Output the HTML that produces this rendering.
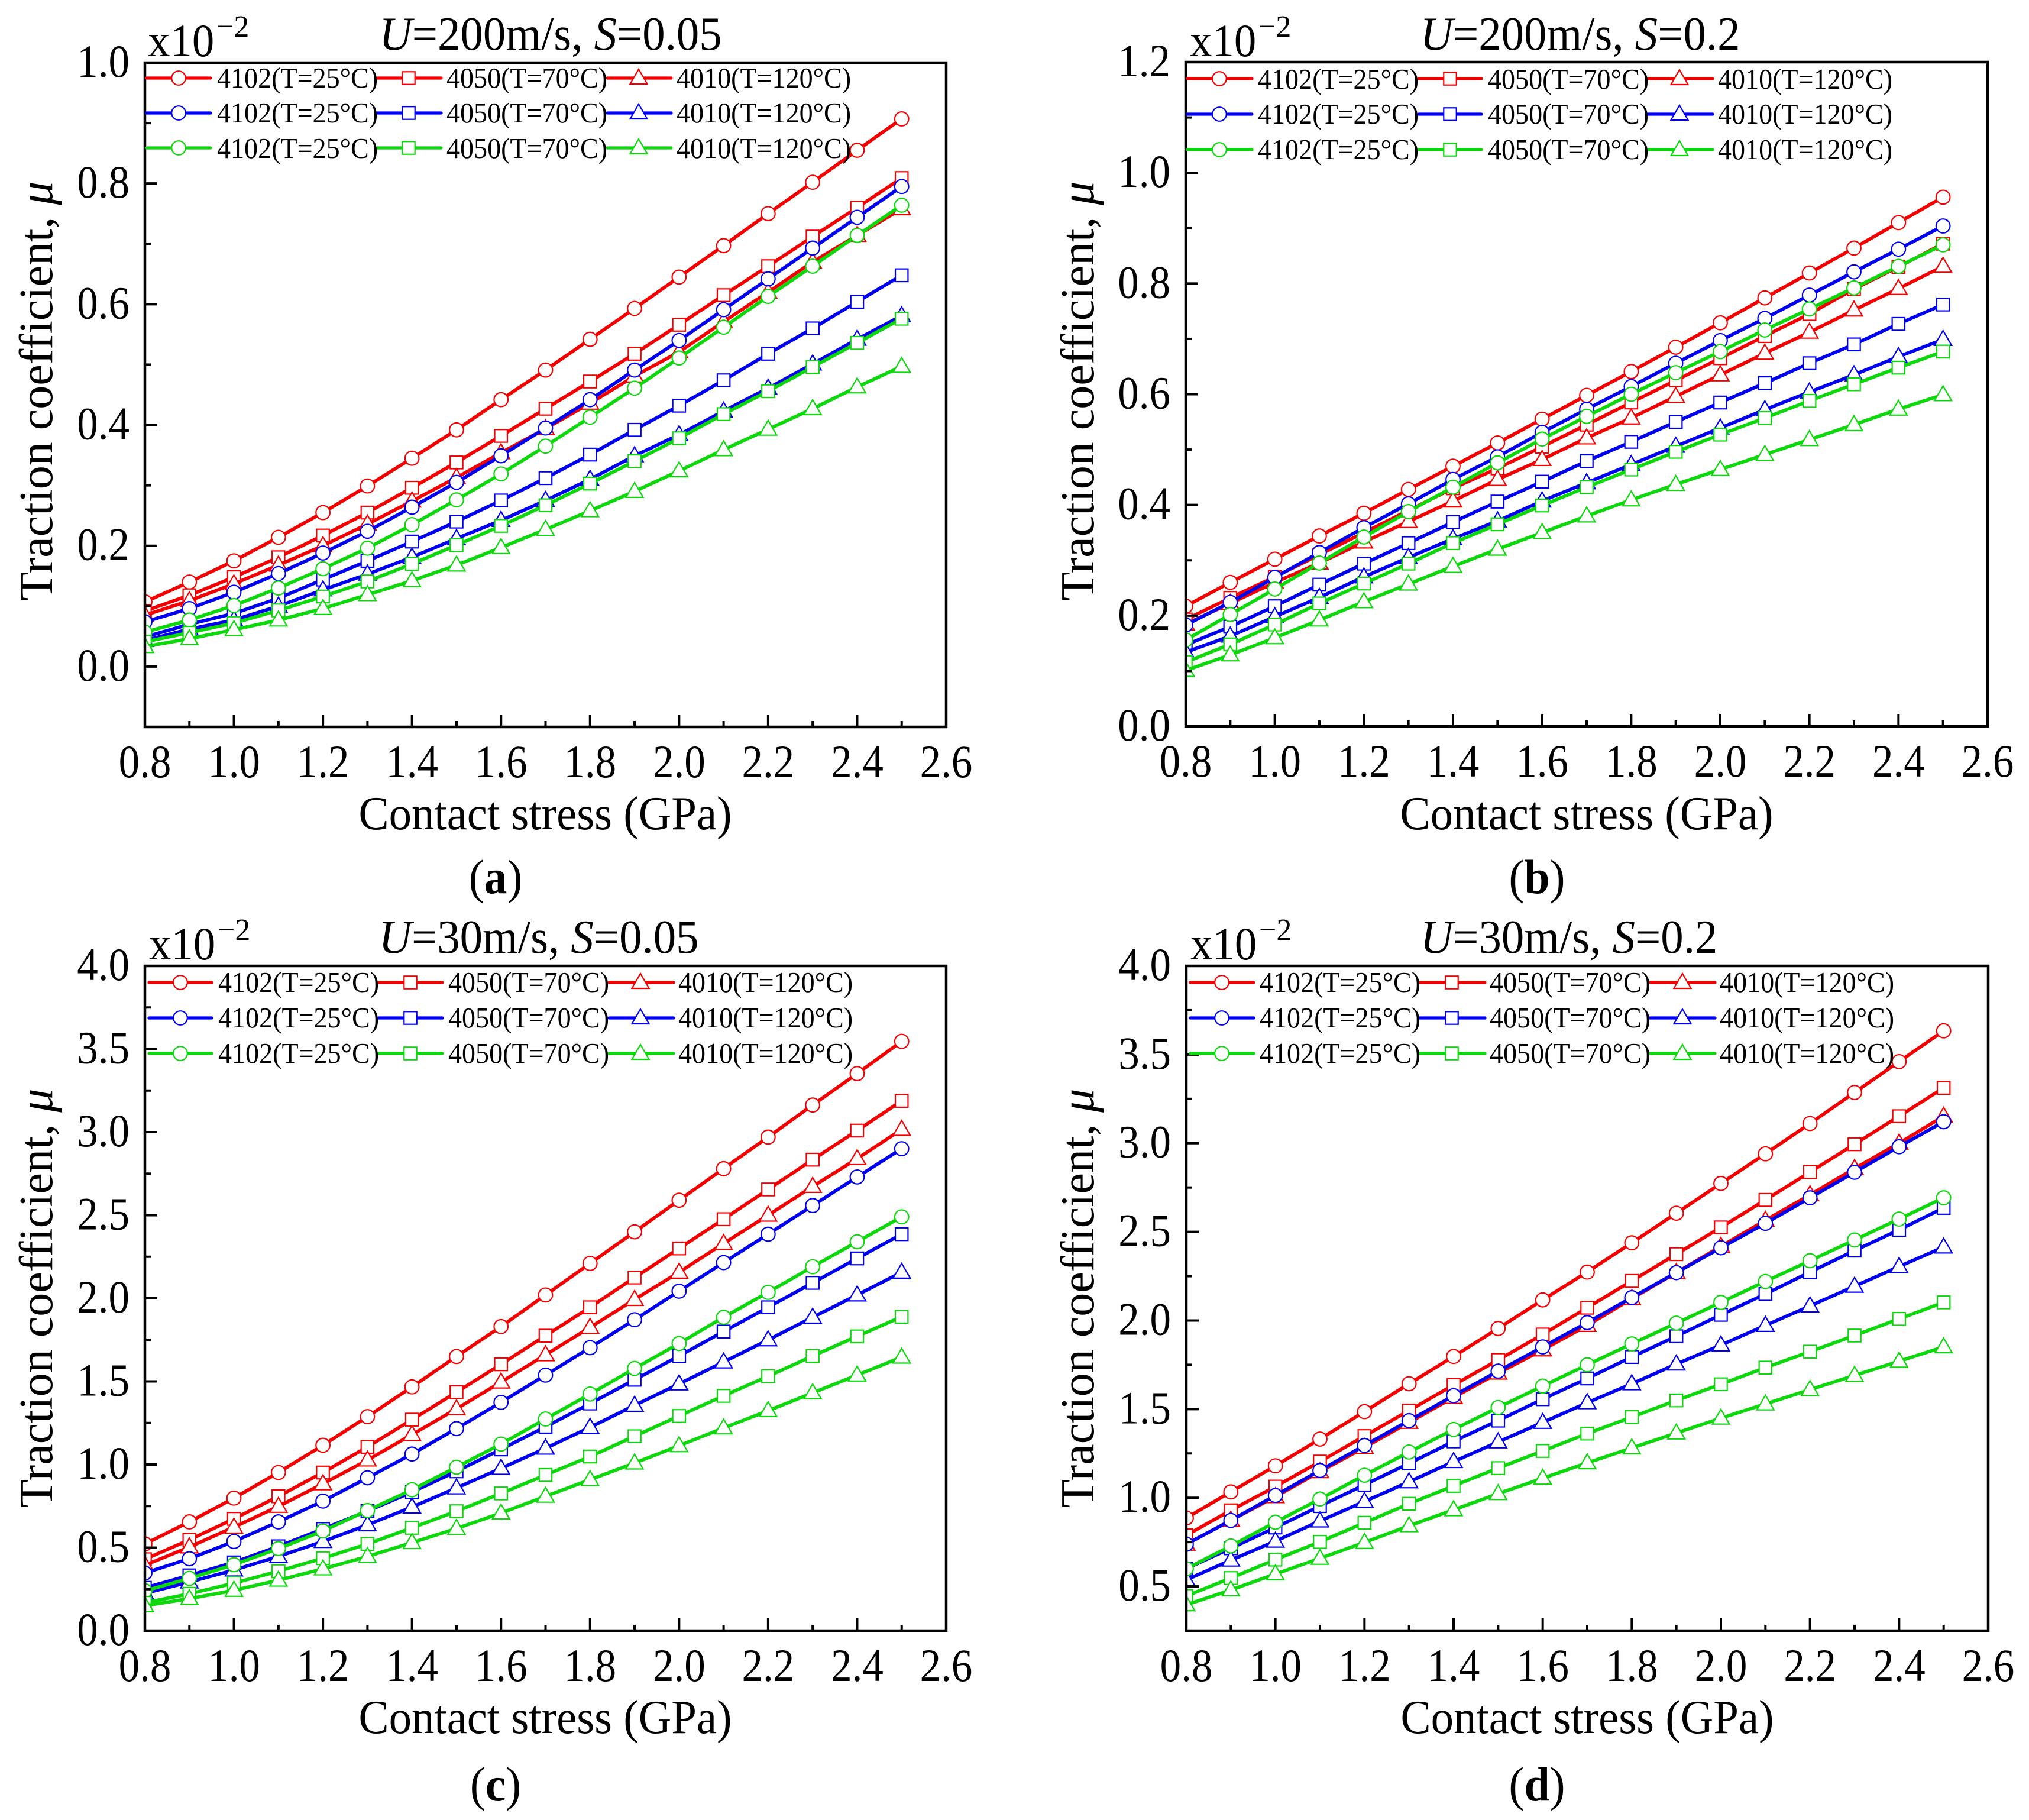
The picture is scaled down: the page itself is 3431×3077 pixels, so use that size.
<!DOCTYPE html>
<html lang="en">
<head>
<meta charset="utf-8">
<title>Traction coefficient vs contact stress</title>
<style>
  html, body { margin: 0; padding: 0; background: #fff; }
  svg { display: block; }
  text { font-family: "Liberation Serif", "Times New Roman", serif; fill: #000; }
  .big { font-size: 80px; }
  .xtitle { font-size: 80px; transform-box: fill-box; transform-origin: center; transform: scaleX(.96); }
  .title { font-size: 80px; transform-box: fill-box; transform-origin: center; transform: scaleX(.96); }
  .leg { font-size: 49px; transform-box: fill-box; transform-origin: left center; transform: scaleX(.94); }
  .mult { font-size: 78px; transform-box: fill-box; transform-origin: left center; transform: scaleX(.96); }
  .exp { font-size: 52px; }
  .cap { font-size: 82px; transform-box: fill-box; transform-origin: center; transform: scaleX(.95); }
  .it { font-style: italic; }
</style>
</head>
<body>
<svg id="figure" xmlns="http://www.w3.org/2000/svg" width="3431" height="3077" viewBox="0 0 3431 3077">
  <rect x="0" y="0" width="3431" height="3077" fill="#fff"/>
  <defs>
    <clipPath id="clip-a"><rect x="245" y="106" width="1355" height="1123"/></clipPath>
    <clipPath id="clip-b"><rect x="2005" y="105" width="1356" height="1123"/></clipPath>
    <clipPath id="clip-c"><rect x="245" y="1633" width="1355" height="1124"/></clipPath>
    <clipPath id="clip-d"><rect x="2006" y="1633" width="1356" height="1124"/></clipPath>
  </defs>

  <!-- PANEL A -->
  <g>
    <g id="plot-a" clip-path="url(#clip-a)"></g>
    <g id="axes-a"></g>
    <g id="legend-a"></g>
    <g>
      <text class="leg" x="367" y="148">4102(T=25°C)</text>
      <text class="leg" x="755" y="148">4050(T=70°C)</text>
      <text class="leg" x="1144" y="148">4010(T=120°C)</text>
      <text class="leg" x="367" y="207">4102(T=25°C)</text>
      <text class="leg" x="755" y="207">4050(T=70°C)</text>
      <text class="leg" x="1144" y="207">4010(T=120°C)</text>
      <text class="leg" x="367" y="267">4102(T=25°C)</text>
      <text class="leg" x="755" y="267">4050(T=70°C)</text>
      <text class="leg" x="1144" y="267">4010(T=120°C)</text>
    </g>
    <text class="title" x="931" y="84" text-anchor="middle"><tspan class="it">U</tspan>=200m/s, <tspan class="it">S</tspan>=0.05</text>
    <text class="mult" x="250" y="95">x10</text>
    <text class="exp" x="366" y="62">−2</text>
    <text class="xtitle" x="922" y="1402" text-anchor="middle">Contact stress (GPa)</text>
    <text class="big" transform="translate(88 661) rotate(-90)" text-anchor="middle">Traction coefficient, <tspan class="it">μ</tspan></text>
    <text class="cap" x="838" y="1510" text-anchor="middle">(<tspan font-weight="bold">a</tspan>)</text>
  </g>

  <!-- PANEL B -->
  <g>
    <g id="plot-b" clip-path="url(#clip-b)"></g>
    <g id="axes-b"></g>
    <g id="legend-b"></g>
    <g>
      <text class="leg" x="2127" y="150">4102(T=25°C)</text>
      <text class="leg" x="2516" y="150">4050(T=70°C)</text>
      <text class="leg" x="2905" y="150">4010(T=120°C)</text>
      <text class="leg" x="2127" y="209">4102(T=25°C)</text>
      <text class="leg" x="2516" y="209">4050(T=70°C)</text>
      <text class="leg" x="2905" y="209">4010(T=120°C)</text>
      <text class="leg" x="2127" y="269">4102(T=25°C)</text>
      <text class="leg" x="2516" y="269">4050(T=70°C)</text>
      <text class="leg" x="2905" y="269">4010(T=120°C)</text>
    </g>
    <text class="title" x="2672" y="84" text-anchor="middle"><tspan class="it">U</tspan>=200m/s, <tspan class="it">S</tspan>=0.2</text>
    <text class="mult" x="2012" y="95">x10</text>
    <text class="exp" x="2128" y="62">−2</text>
    <text class="xtitle" x="2683" y="1402" text-anchor="middle">Contact stress (GPa)</text>
    <text class="big" transform="translate(1849 661) rotate(-90)" text-anchor="middle">Traction coefficient, <tspan class="it">μ</tspan></text>
    <text class="cap" x="2599" y="1510" text-anchor="middle">(<tspan font-weight="bold">b</tspan>)</text>
  </g>

  <!-- PANEL C -->
  <g>
    <g id="plot-c" clip-path="url(#clip-c)"></g>
    <g id="axes-c"></g>
    <g id="legend-c"></g>
    <g>
      <text class="leg" x="369" y="1677">4102(T=25°C)</text>
      <text class="leg" x="758" y="1677">4050(T=70°C)</text>
      <text class="leg" x="1147" y="1677">4010(T=120°C)</text>
      <text class="leg" x="369" y="1737">4102(T=25°C)</text>
      <text class="leg" x="758" y="1737">4050(T=70°C)</text>
      <text class="leg" x="1147" y="1737">4010(T=120°C)</text>
      <text class="leg" x="369" y="1797">4102(T=25°C)</text>
      <text class="leg" x="758" y="1797">4050(T=70°C)</text>
      <text class="leg" x="1147" y="1797">4010(T=120°C)</text>
    </g>
    <text class="title" x="911" y="1611" text-anchor="middle"><tspan class="it">U</tspan>=30m/s, <tspan class="it">S</tspan>=0.05</text>
    <text class="mult" x="252" y="1622">x10</text>
    <text class="exp" x="368" y="1589">−2</text>
    <text class="xtitle" x="922" y="2930" text-anchor="middle">Contact stress (GPa)</text>
    <text class="big" transform="translate(88 2195) rotate(-90)" text-anchor="middle">Traction coefficient, <tspan class="it">μ</tspan></text>
    <text class="cap" x="838" y="3044" text-anchor="middle">(<tspan font-weight="bold">c</tspan>)</text>
  </g>

  <!-- PANEL D -->
  <g>
    <g id="plot-d" clip-path="url(#clip-d)"></g>
    <g id="axes-d"></g>
    <g id="legend-d"></g>
    <g>
      <text class="leg" x="2130" y="1677">4102(T=25°C)</text>
      <text class="leg" x="2519" y="1677">4050(T=70°C)</text>
      <text class="leg" x="2908" y="1677">4010(T=120°C)</text>
      <text class="leg" x="2130" y="1737">4102(T=25°C)</text>
      <text class="leg" x="2519" y="1737">4050(T=70°C)</text>
      <text class="leg" x="2908" y="1737">4010(T=120°C)</text>
      <text class="leg" x="2130" y="1797">4102(T=25°C)</text>
      <text class="leg" x="2519" y="1797">4050(T=70°C)</text>
      <text class="leg" x="2908" y="1797">4010(T=120°C)</text>
    </g>
    <text class="title" x="2653" y="1611" text-anchor="middle"><tspan class="it">U</tspan>=30m/s, <tspan class="it">S</tspan>=0.2</text>
    <text class="mult" x="2013" y="1622">x10</text>
    <text class="exp" x="2129" y="1589">−2</text>
    <text class="xtitle" x="2684" y="2930" text-anchor="middle">Contact stress (GPa)</text>
    <text class="big" transform="translate(1849 2195) rotate(-90)" text-anchor="middle">Traction coefficient, <tspan class="it">μ</tspan></text>
    <text class="cap" x="2599" y="3044" text-anchor="middle">(<tspan font-weight="bold">d</tspan>)</text>
  </g>
</svg>

<script>
// Shared x categories and tick labels
const contactStress = [0.8,0.9,1.0,1.1,1.2,1.3,1.4,1.5,1.6,1.7,1.8,1.9,2.0,2.1,2.2,2.3,2.4,2.5];
const xTickLabels = ['0.8','1.0','1.2','1.4','1.6','1.8','2.0','2.2','2.4','2.6'];
const yTickLabelsA = ['0.0','0.2','0.4','0.6','0.8','1.0'];
const yTickLabelsB = ['0.0','0.2','0.4','0.6','0.8','1.0','1.2'];
const yTickLabelsC = ['0.0','0.5','1.0','1.5','2.0','2.5','3.0','3.5','4.0'];
const yTickLabelsD = ['0.5','1.0','1.5','2.0','2.5','3.0','3.5','4.0'];

// Panel (a) U=200m/s, S=0.05
const aRed4102 = [.107,.14,.175,.214,.255,.299,.345,.392,.442,.491,.542,.593,.645,.697,.75,.802,.855,.907];
const aRed4050 = [.092,.118,.148,.181,.217,.255,.296,.338,.382,.427,.472,.518,.566,.615,.663,.712,.76,.809];
const aRed4010 = [.085,.109,.137,.168,.2,.236,.274,.313,.354,.394,.436,.481,.521,.571,.62,.67,.714,.758];
const aBlue4102 = [.074,.096,.123,.154,.188,.224,.264,.305,.349,.395,.442,.491,.54,.591,.642,.693,.744,.795];
const aBlue4050 = [.049,.07,.088,.113,.144,.175,.207,.24,.275,.312,.351,.392,.432,.474,.518,.56,.604,.648];
const aBlue4010 = [.043,.062,.077,.1,.127,.153,.181,.212,.242,.275,.31,.349,.384,.423,.461,.501,.542,.581];
const aGreen4102 = [.057,.077,.101,.13,.162,.196,.235,.276,.319,.365,.413,.461,.511,.562,.613,.663,.714,.764];
const aGreen4050 = [.041,.056,.072,.093,.116,.141,.17,.201,.233,.267,.303,.34,.378,.418,.456,.496,.536,.576];
const aGreen4010 = [.033,.046,.061,.077,.096,.119,.142,.168,.197,.227,.258,.29,.324,.359,.393,.427,.463,.497];

// Panel (b) U=200m/s, S=0.2
const bRed4102 = [.217,.26,.302,.344,.385,.428,.47,.512,.555,.598,.641,.685,.729,.774,.819,.864,.91,.956];
const bRed4050 = [.193,.232,.27,.31,.35,.39,.43,.466,.505,.545,.585,.625,.665,.705,.745,.79,.83,.872];
const bRed4010 = [.185,.222,.26,.295,.333,.37,.407,.446,.482,.521,.557,.596,.635,.674,.712,.752,.791,.831];
const bBlue4102 = [.183,.224,.269,.314,.359,.402,.446,.487,.531,.573,.614,.656,.697,.737,.779,.821,.862,.904];
const bBlue4050 = [.147,.18,.217,.256,.294,.331,.369,.406,.442,.479,.514,.55,.585,.62,.656,.69,.727,.762];
const bBlue4010 = [.134,.163,.198,.233,.27,.305,.339,.371,.407,.44,.473,.506,.539,.572,.604,.635,.668,.699];
const bGreen4102 = [.156,.202,.248,.295,.342,.388,.432,.476,.519,.56,.6,.639,.677,.716,.754,.792,.831,.87];
const bGreen4050 = [.116,.148,.184,.222,.258,.294,.331,.365,.399,.432,.464,.496,.527,.557,.588,.618,.648,.677];
const bGreen4010 = [.101,.129,.16,.192,.225,.257,.289,.32,.35,.38,.409,.437,.464,.491,.518,.545,.573,.599];

// Panel (c) U=30m/s, S=0.05
const cRed4102 = [.522,.655,.798,.952,1.116,1.288,1.467,1.65,1.83,2.02,2.21,2.40,2.59,2.78,2.97,3.163,3.352,3.546];
const cRed4050 = [.43,.547,.673,.809,.952,1.106,1.27,1.435,1.603,1.775,1.946,2.125,2.30,2.476,2.655,2.834,3.009,3.188];
const cRed4010 = [.394,.504,.623,.748,.884,1.027,1.18,1.335,1.496,1.66,1.825,1.993,2.157,2.33,2.50,2.673,2.84,3.016];
const cBlue4102 = [.347,.433,.537,.655,.78,.92,1.063,1.216,1.374,1.538,1.703,1.871,2.043,2.215,2.386,2.558,2.73,2.90];
const cBlue4050 = [.258,.333,.411,.508,.612,.72,.834,.959,1.091,1.227,1.367,1.51,1.653,1.80,1.946,2.093,2.24,2.386];
const cBlue4010 = [.225,.293,.365,.447,.537,.637,.744,.859,.977,1.098,1.224,1.356,1.485,1.617,1.75,1.886,2.02,2.157];
const cGreen4102 = [.24,.315,.397,.494,.60,.723,.848,.984,1.123,1.274,1.424,1.578,1.728,1.886,2.036,2.19,2.34,2.49];
const cGreen4050 = [.168,.222,.286,.358,.436,.522,.619,.719,.826,.937,1.048,1.17,1.292,1.413,1.531,1.653,1.771,1.889];
const cGreen4010 = [.15,.193,.243,.304,.372,.447,.53,.615,.708,.809,.909,1.009,1.113,1.22,1.324,1.431,1.538,1.646];

// Panel (d) U=30m/s, S=0.2
const dRed4102 = [.886,1.033,1.18,1.331,1.486,1.643,1.797,1.955,2.116,2.273,2.438,2.605,2.773,2.94,3.111,3.286,3.46,3.634];
const dRed4050 = [.788,.929,1.063,1.204,1.348,1.492,1.636,1.777,1.921,2.072,2.223,2.374,2.525,2.68,2.837,2.994,3.152,3.312];
const dRed4010 = [.738,.872,1.006,1.147,1.284,1.425,1.566,1.703,1.834,1.972,2.123,2.27,2.418,2.565,2.709,2.857,3.0,3.152];
const dBlue4102 = [.738,.872,1.013,1.154,1.295,1.435,1.576,1.714,1.851,1.988,2.129,2.27,2.41,2.548,2.692,2.836,2.98,3.121];
const dBlue4050 = [.60,.715,.832,.953,1.073,1.194,1.318,1.435,1.556,1.673,1.794,1.911,2.032,2.149,2.273,2.394,2.511,2.635];
const dBlue4010 = [.537,.648,.755,.869,.979,1.09,1.204,1.315,1.425,1.536,1.643,1.754,1.861,1.972,2.082,2.193,2.304,2.414];
const dGreen4102 = [.60,.728,.862,.993,1.127,1.258,1.385,1.509,1.63,1.75,1.868,1.985,2.102,2.22,2.337,2.454,2.572,2.692];
const dGreen4050 = [.446,.547,.651,.751,.859,.966,1.067,1.167,1.264,1.362,1.455,1.549,1.64,1.734,1.824,1.915,2.009,2.102];
const dGreen4010 = [.396,.48,.57,.658,.748,.842,.932,1.023,1.11,1.197,1.281,1.365,1.449,1.529,1.61,1.69,1.77,1.851];

const SVG_NS = 'http://www.w3.org/2000/svg';
const RED = '#f50000', BLUE = '#0000f0', GREEN = '#0cd80c';

function make(tag, attrs, parent) {
  const el = document.createElementNS(SVG_NS, tag);
  for (const k in attrs) el.setAttribute(k, attrs[k]);
  parent.appendChild(el);
  return el;
}

function drawMarker(parent, shape, x, y, color) {
  let el;
  const base = { fill: '#fff', stroke: color, 'stroke-width': 2.2 };
  if (shape === 'circle') {
    el = make('circle', Object.assign({ cx: x, cy: y, r: 11.8 }, base), parent);
  } else if (shape === 'square') {
    el = make('rect', Object.assign({ x: x - 10.7, y: y - 10.7, width: 21.4, height: 21.4 }, base), parent);
  } else {
    el = make('polygon', Object.assign({ points: (x) + ',' + (y - 15) + ' ' + (x + 14.5) + ',' + (y + 10) + ' ' + (x - 14.5) + ',' + (y + 10) }, base), parent);
  }
  
  
}

function drawPanel(p) {
  const plot = document.getElementById('plot-' + p.id);
  const axes = document.getElementById('axes-' + p.id);
  const legend = document.getElementById('legend-' + p.id);
  const xScale = v => p.left + (v - 0.8) / (2.6 - 0.8) * (p.right - p.left);
  const yScale = v => p.bottom - (v - p.yMin) / (p.yMax - p.yMin) * (p.bottom - p.top);

  // series
  p.series.forEach(s => {
    const g = make('g', {}, plot);
    
    
    const pts = s.values.map((v, i) => xScale(contactStress[i]).toFixed(1) + ',' + yScale(v).toFixed(1)).join(' ');
    const line = make('polyline', { points: pts, fill: 'none', stroke: s.color, 'stroke-width': 5.8, 'stroke-linejoin': 'round' }, g);
    
    
    s.values.forEach((v, i) => drawMarker(g, s.shape, xScale(contactStress[i]), yScale(v), s.color));
  });

  // frame
  const frame = make('rect', { x: p.left, y: p.top, width: p.right - p.left, height: p.bottom - p.top, fill: 'none', stroke: '#000', 'stroke-width': 4.5 }, axes);
  
  

  // x ticks
  xTickLabels.forEach((lab, i) => {
    const v = parseFloat(lab);
    const x = xScale(v);
    const t = make('line', { x1: x, x2: x, y1: p.bottom, y2: p.bottom - 21, stroke: '#000', 'stroke-width': 4 }, axes);
    
    
    const txt = make('text', { transform: 'translate(' + x + ' ' + (p.bottom + 85) + ') scale(.91 1)', 'text-anchor': 'middle', 'font-size': 78 }, axes);
    txt.textContent = lab;
    
    
    if (i < xTickLabels.length - 1) {
      const mx = xScale(v + 0.1);
      const m = make('line', { x1: mx, x2: mx, y1: p.bottom, y2: p.bottom - 10, stroke: '#000', 'stroke-width': 4 }, axes);
      
      
    }
  });

  // y ticks
  const labels = p.yLabels;
  const step = parseFloat(labels[1]) - parseFloat(labels[0]);
  labels.forEach(lab => {
    const v = parseFloat(lab);
    const y = yScale(v);
    const t = make('line', { x1: p.left, x2: p.left + 21, y1: y, y2: y, stroke: '#000', 'stroke-width': 4 }, axes);
    
    
    const txt = make('text', { transform: 'translate(' + (p.left - 26) + ' ' + (y + 24) + ') scale(.91 1)', 'text-anchor': 'end', 'font-size': 78 }, axes);
    txt.textContent = lab;
    
    
    const mv = v + step / 2;
    if (mv < p.yMax) {
      const my = yScale(mv);
      const m = make('line', { x1: p.left, x2: p.left + 10, y1: my, y2: my, stroke: '#000', 'stroke-width': 4 }, axes);
      
      
    }
  });

  // legend samples
  p.series.forEach((s, i) => {
    const col = i % 3, row = Math.floor(i / 3);
    const cx = p.legendCols[col];
    const cy = p.legendRows[row];
    const ln = make('line', { x1: cx.start, x2: cx.end, y1: cy, y2: cy, stroke: s.color, 'stroke-width': 5.2, 'stroke-linecap': 'round' }, legend);
    
    
    drawMarker(legend, s.shape, cx.mark, cy, s.color);
  });
}

function seriesList(r1, r2, r3, b1, b2, b3, g1, g2, g3) {
  return [
    { name: 'red-4102', values: r1, color: RED, shape: 'circle' },
    { name: 'red-4050', values: r2, color: RED, shape: 'square' },
    { name: 'red-4010', values: r3, color: RED, shape: 'triangle' },
    { name: 'blue-4102', values: b1, color: BLUE, shape: 'circle' },
    { name: 'blue-4050', values: b2, color: BLUE, shape: 'square' },
    { name: 'blue-4010', values: b3, color: BLUE, shape: 'triangle' },
    { name: 'green-4102', values: g1, color: GREEN, shape: 'circle' },
    { name: 'green-4050', values: g2, color: GREEN, shape: 'square' },
    { name: 'green-4010', values: g3, color: GREEN, shape: 'triangle' }
  ];
}

drawPanel({
  id: 'a', left: 245, right: 1600, top: 106, bottom: 1229, yMin: -0.1, yMax: 1.0,
  yLabels: yTickLabelsA,
  series: seriesList(aRed4102, aRed4050, aRed4010, aBlue4102, aBlue4050, aBlue4010, aGreen4102, aGreen4050, aGreen4010),
  legendCols: [{ start: 248, end: 356, mark: 302 }, { start: 638, end: 746, mark: 691 }, { start: 1027, end: 1135, mark: 1080 }],
  legendRows: [132, 191, 250]
});
drawPanel({
  id: 'b', left: 2005, right: 3361, top: 105, bottom: 1228, yMin: 0, yMax: 1.2,
  yLabels: yTickLabelsB,
  series: seriesList(bRed4102, bRed4050, bRed4010, bBlue4102, bBlue4050, bBlue4010, bGreen4102, bGreen4050, bGreen4010),
  legendCols: [{ start: 2008, end: 2117, mark: 2062 }, { start: 2399, end: 2505, mark: 2452 }, { start: 2787, end: 2896, mark: 2840 }],
  legendRows: [133, 193, 253]
});
drawPanel({
  id: 'c', left: 245, right: 1600, top: 1633, bottom: 2757, yMin: 0, yMax: 4.0,
  yLabels: yTickLabelsC,
  series: seriesList(cRed4102, cRed4050, cRed4010, cBlue4102, cBlue4050, cBlue4010, cGreen4102, cGreen4050, cGreen4010),
  legendCols: [{ start: 252, end: 358, mark: 305 }, { start: 641, end: 748, mark: 694 }, { start: 1030, end: 1139, mark: 1083 }],
  legendRows: [1661, 1721, 1781]
});
drawPanel({
  id: 'd', left: 2006, right: 3362, top: 1633, bottom: 2757, yMin: 0.25, yMax: 4.0,
  yLabels: yTickLabelsD,
  series: seriesList(dRed4102, dRed4050, dRed4010, dBlue4102, dBlue4050, dBlue4010, dGreen4102, dGreen4050, dGreen4010),
  legendCols: [{ start: 2013, end: 2120, mark: 2066 }, { start: 2401, end: 2511, mark: 2455 }, { start: 2790, end: 2900, mark: 2845 }],
  legendRows: [1661, 1721, 1781]
});
</script>
</body>
</html>
